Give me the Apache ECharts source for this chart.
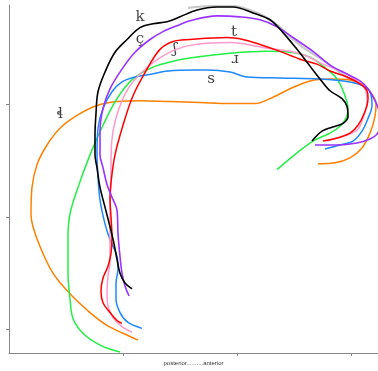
<!DOCTYPE html>
<html><head><meta charset="utf-8">
<script src="https://cdn.jsdelivr.net/npm/echarts@6/dist/echarts.min.js"></script>
<style>html,body{margin:0;padding:0;background:#fff}#c{width:378px;height:371px}</style>
</head><body><div id="c"></div>
<script>
// data units: x = posterior→anterior position, y = height
const xTicks = [114, 228, 342];
const yTicks = [24, 138, 252];
const xAxisName = 'posterior..........anterior';

const orange = [[129,13],[114,20],[98,28],[81,41],[61,60],[44,81],[31,108],[24,128],[22,141],[23,168],[28,191],[38,211],[51,228],[68,241],[88,251],[108,255],[131,256],[161,255],[191,254],[221,253],[246,253],[261,258],[281,268],[301,276],[321,278],[341,277],[353,273],[361,265],[367,253],[366,240],[361,223],[353,208],[341,198],[326,193],[309,192]];
const green = [[111,1],[91,8],[74,20],[64,35],[61,55],[59,81],[59,118],[61,141],[69,168],[81,201],[94,231],[108,258],[124,278],[144,290],[164,296],[186,300],[221,304],[258,306],[281,305],[301,300],[314,291],[328,278],[336,261],[339,248],[337,238],[331,230],[321,223],[304,215],[288,203],[268,186]];
const blue = [[133,25],[119,31],[111,41],[107,55],[107,71],[109,85],[108,98],[101,115],[96,131],[91,155],[89,178],[88,201],[89,228],[94,248],[103,265],[113,275],[126,280],[143,283],[159,286],[186,287],[198,287],[221,285],[238,280],[271,279],[311,278],[341,275],[354,271],[361,265],[363,251],[359,238],[353,225],[344,215],[331,211],[316,207]];
const gray = [[179,350],[204,352],[224,352],[248,345],[264,336],[281,321],[294,310],[308,301],[321,292],[336,281],[349,274]];
const pink = [[123,21],[114,26],[104,36],[99,48],[98,61],[99,78],[101,93],[101,118],[101,148],[102,173],[102,198],[104,225],[110,248],[119,268],[133,285],[149,298],[167,308],[186,313],[221,315],[238,313],[254,310],[281,306],[298,301],[314,293],[334,285],[348,276],[356,268],[358,255],[354,238],[348,226],[334,220],[318,215]];
const red = [[113,30],[108,33],[101,41],[94,51],[92,63],[94,76],[99,88],[102,101],[103,118],[102,138],[101,158],[102,173],[106,201],[114,231],[124,261],[138,288],[151,308],[164,316],[181,318],[218,320],[234,318],[251,313],[271,306],[291,298],[308,293],[321,286],[338,280],[351,273],[358,266],[359,258],[356,245],[349,231],[341,223],[328,218],[314,215]];
const purple = [[120,58],[116,68],[113,81],[111,98],[109,121],[108,145],[103,158],[98,171],[94,188],[91,201],[91,225],[94,248],[101,268],[113,288],[126,305],[141,318],[154,326],[168,332],[181,337],[208,342],[231,341],[251,338],[268,331],[284,320],[304,306],[321,292],[338,283],[351,276],[359,268],[365,258],[370,246],[372,233],[368,222],[361,217],[348,213],[328,211],[306,211]];
const black = [[123,65],[116,71],[111,81],[108,95],[105,111],[101,128],[96,148],[91,168],[88,188],[86,201],[86,221],[87,243],[89,265],[96,285],[106,305],[118,318],[131,330],[144,334],[158,336],[171,341],[188,348],[208,351],[224,351],[244,345],[261,338],[274,325],[288,308],[301,291],[311,278],[321,266],[333,258],[338,250],[339,240],[334,233],[323,229],[313,225],[303,215]];

const labelNames = ['k', 'ç', 'ʃ', 't', 'ɹ', 's', 'ɬ'];
const labelPos = [[131,341],[131,318],[166,308],[225,326],[226,298],[202,278],[51,242]];

const lines = [
  {name:'gray', data:gray, color:'#c8c8c8', w:2.2},
  {name:'orange', data:orange, color:'#ff8000', w:1.5},
  {name:'green', data:green, color:'#22ee44', w:1.5},
  {name:'blue', data:blue, color:'#1e88ff', w:1.5},
  {name:'pink', data:pink, color:'#ff99cc', w:1.5},
  {name:'red', data:red, color:'#ff0000', w:1.5},
  {name:'purple', data:purple, color:'#9933ff', w:1.6},
  {name:'black', data:black, color:'#000000', w:1.6}
];

const chart = echarts.init(document.getElementById('c'), null, {renderer:'canvas'});
const axisCol = '#888';
chart.setOption({
  animation:false,
  backgroundColor:'#fff',
  grid:{left:9, right:0, top:5, bottom:13, containLabel:false},
  xAxis:{type:'value', min:0, max:369,
    axisLine:{show:true, onZero:false, lineStyle:{color:axisCol, width:1}},
    axisTick:{show:true, length:3, customValues:xTicks, lineStyle:{color:axisCol}},
    axisLabel:{show:false}, splitLine:{show:false},
    name:xAxisName, nameLocation:'middle', nameGap:7,
    nameTextStyle:{fontSize:6, color:'#333', fontFamily:'Liberation Sans'}},
  yAxis:{type:'value', min:0, max:353,
    axisLine:{show:true, onZero:false, lineStyle:{color:axisCol, width:1}},
    axisTick:{show:true, length:3, customValues:yTicks, lineStyle:{color:axisCol}},
    axisLabel:{show:false}, splitLine:{show:false}},
  series: lines.map(l => ({
    type:'line', name:l.name, data:l.data, smooth:0.35, showSymbol:false, symbol:'none',
    lineStyle:{color:l.color, width:l.w}, clip:true
  })).concat([{
    type:'scatter', symbolSize:0,
    data: labelNames.map((n,i)=>({name:n, value:labelPos[i]})),
    label:{show:true, position:'inside', formatter:p=>p.name,
      fontFamily:"'DejaVu Serif','Liberation Serif',serif", fontSize:15, color:'#111'}
  }])
});
</script></body></html>
